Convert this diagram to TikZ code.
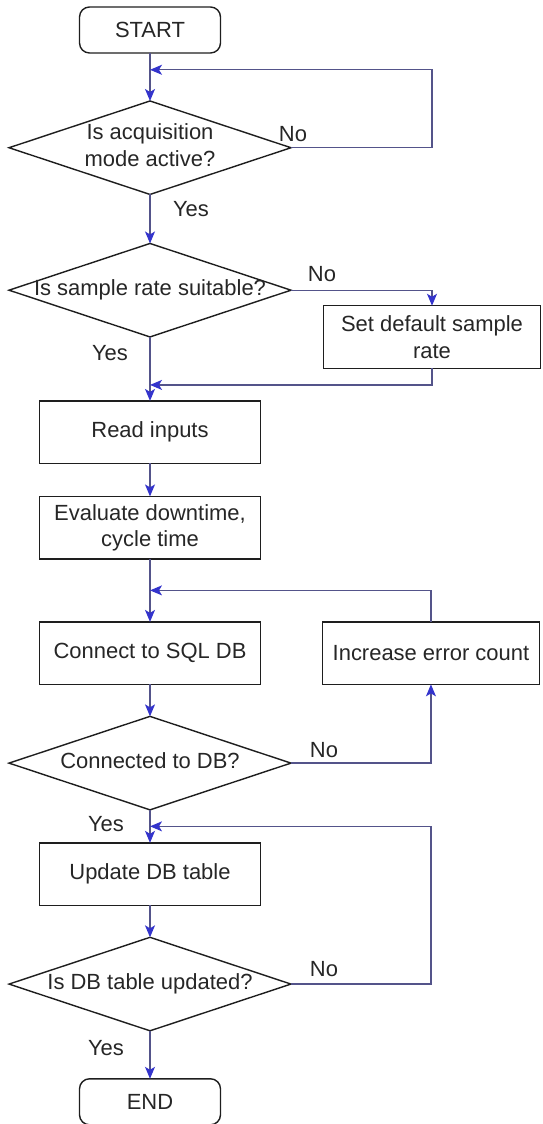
\documentclass[tikz,border=0pt]{standalone}
\usepackage{fontspec}
\setmainfont{Liberation Sans}
\usetikzlibrary{positioning,arrows.meta,calc,shapes.geometric}
\definecolor{ink}{RGB}{38,38,38}
\definecolor{edge}{RGB}{30,30,30}
\definecolor{wire}{RGB}{84,84,138}
\definecolor{tip}{RGB}{52,52,204}
\newcommand{\nowd}[1]{\makebox[0pt]{\begin{tabular}{@{}c@{}}#1\end{tabular}}}
\tikzset{
  term/.style={draw=edge, line width=0.8pt, rounded corners=0.2cm, minimum width=2.82cm,
               minimum height=0.92cm, inner sep=0pt, outer sep=0pt, text=ink},
  box/.style={draw=edge, line width=0.8pt, minimum width=4.42cm, minimum height=1.25cm,
              inner sep=0pt, outer sep=0pt, align=center, text=ink},
  side/.style={box, minimum width=4.34cm},
  dec/.style={draw=edge, line width=0.8pt, diamond, minimum width=5.64cm,
              minimum height=1.87cm, inner sep=0pt, outer sep=0pt, text=ink},
  arr/.style={-{Stealth[length=0.24cm, width=0.2cm, inset=0.06cm, color=tip]},
              line width=0.7pt, draw=wire},
  lnk/.style={line width=0.7pt, draw=wire},
  lbl/.style={text=ink, inner sep=0pt},
}

\begin{document}
\begin{tikzpicture}[x=0.02cm, y=-0.02cm, font=\fontsize{12.5}{15}\selectfont]
  \useasboundingbox (0,0) rectangle (542,1124);

  \node[term] (start) at (150,30) {START};
  \node[dec, below=0.96cm of start] (d1) {\nowd{Is acquisition\\mode active?}};
  \node[dec, below=0.98cm of d1] (d2) {\nowd{Is sample rate suitable?}};
  \node[box, below=1.28cm of d2] (read) {Read inputs};
  \node[box, below=0.66cm of read] (eval) {Evaluate downtime,\\cycle time};
  \node[box, below=1.26cm of eval] (conn) {Connect to SQL DB};
  \node[dec, below=0.64cm of conn] (d3) {\nowd{Connected to DB?}};
  \node[box, below=0.66cm of d3] (upd) {Update DB table};
  \node[dec, below=0.64cm of upd] (d4) {\nowd{Is DB table updated?}};
  \node[term, below=0.96cm of d4] (stop) {END};

  \node[side] (dflt) at (432,337) {Set default sample\\rate};
  \node[side, right=1.24cm of conn] (err) {Increase error count};

  % merge points on the main line
  \coordinate (m1) at ($(start.south)!0.35!(d1.north)$);
  \coordinate (m2) at ($(d2.south)!0.75!(read.north)$);
  \coordinate (m3) at ($(eval.south)!0.5!(conn.north)$);
  \coordinate (m4) at ($(d3.south)!0.5!(upd.north)$);

  \draw[arr] (start) -- (d1);
  \draw[arr] (d1) -- (d2);
  \draw[arr] (d2) -- (read);
  \draw[arr] (read) -- (eval);
  \draw[arr] (eval) -- (conn);
  \draw[arr] (conn) -- (d3);
  \draw[arr] (d3) -- (upd);
  \draw[arr] (upd) -- (d4);
  \draw[arr] (d4) -- (stop);

  % side branches
  \draw[arr] (d1.east) -- (d1.east -| dflt.north) |- (m1);
  \draw[arr] (d2.east) -| (dflt.north);
  \draw[arr] (dflt.south) |- (m2);
  \draw[arr] (err.north) |- (m3);
  \draw[arr] (d3.east) -| (err.south);
  \draw[arr] (d4.east) -- (d4.east -| err.south) |- (m4);

  % yes / no labels
  \node[lbl] (no1)  at ($(d1.east)+(2,-14)$)   {No};
  \node[lbl] (yes1) at ($(d1.south)+(41,15)$)  {Yes};
  \node[lbl] (no2)  at ($(d2.east)+(31,-16)$)  {No};
  \node[lbl] (yes2) at ($(d2.south)+(-40,16)$) {Yes};
  \node[lbl] (no3)  at ($(d3.east)+(33,-13)$)  {No};
  \node[lbl] (yes3) at ($(d3.south)+(-44,14)$) {Yes};
  \node[lbl] (no4)  at ($(d4.east)+(33,-15)$)  {No};
  \node[lbl] (yes4) at ($(d4.south)+(-44,17)$) {Yes};
\end{tikzpicture}
\end{document}
